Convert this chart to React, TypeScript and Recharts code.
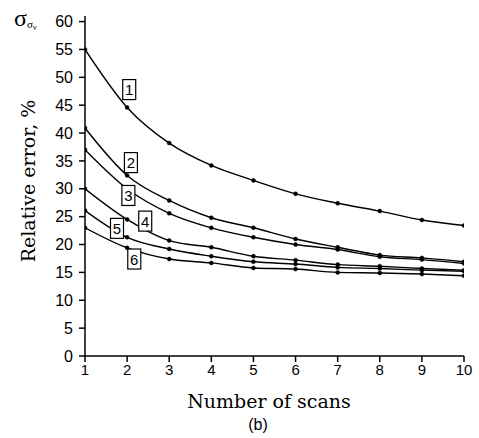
import React from 'react';
import { LineChart, Line, XAxis, YAxis, ReferenceDot } from 'recharts';

const scans = [1, 2, 3, 4, 5, 6, 7, 8, 9, 10];
const curve1 = [55, 44.6, 38.2, 34.2, 31.5, 29.1, 27.4, 26.0, 24.4, 23.4];
const curve2 = [40.9, 32.4, 27.9, 24.8, 23.0, 21.0, 19.5, 18.1, 17.6, 16.9];
const curve3 = [37.0, 30.0, 25.6, 23.0, 21.3, 20.0, 19.1, 17.8, 17.3, 16.6];
const curve4 = [30.0, 24.5, 20.7, 19.5, 17.9, 17.2, 16.4, 16.1, 15.7, 15.4];
const curve5 = [26.1, 21.3, 19.2, 17.9, 16.9, 16.5, 15.9, 15.7, 15.4, 15.2];
const curve6 = [23.0, 19.4, 17.4, 16.7, 15.8, 15.6, 15.0, 14.9, 14.7, 14.4];

const yTicks = [0, 5, 10, 15, 20, 25, 30, 35, 40, 45, 50, 55, 60];
const curveNames = ['1', '2', '3', '4', '5', '6'];
const labelX = [2.05, 2.09, 2.03, 2.43, 1.76, 2.17];
const labelY = [47.8, 34.7, 28.8, 24.2, 22.9, 17.4];

const series = [curve1, curve2, curve3, curve4, curve5, curve6];
const data = scans.map((s, i) => {
  const row: any = { x: s };
  series.forEach((arr, k) => {
    row['c' + (k + 1)] = arr[i];
  });
  return row;
});

const sans = 'Liberation Sans, Arial, sans-serif';
const serif = 'DejaVu Serif, serif';
const times = 'Liberation Serif, Times New Roman, serif';

const BoxLabel = (props: any) => {
  const { cx, cy, text } = props;
  return (
    <g>
      <rect x={cx - 6.5} y={cy - 10} width={13} height={20} fill="#fff" stroke="#000" strokeWidth={1.2} />
      <text x={cx} y={cy + 5.5} textAnchor="middle" fontFamily={sans} fontSize={15} fill="#000">
        {text}
      </text>
    </g>
  );
};

export default function App() {
  return (
    <div style={{ position: 'absolute', left: 0, top: 0, width: 479, height: 438, background: '#fff' }}>
      <LineChart width={479} height={438} data={data} margin={{ top: 16, right: 15, bottom: 52, left: 25 }}>
        <XAxis
          dataKey="x"
          type="number"
          domain={[1, 10]}
          ticks={scans}
          allowDataOverflow
          stroke="#000"
          strokeWidth={1.5}
          tickSize={6}
          height={30}
          tick={{ fill: '#000', fontFamily: sans, fontSize: 15 }}
        />
        <XAxis
          xAxisId="top"
          orientation="top"
          type="number"
          domain={[1, 10]}
          height={0}
          tick={false}
          tickLine={false}
          stroke="#000"
          strokeWidth={1.5}
        />
        <YAxis
          type="number"
          domain={[0, 61]}
          ticks={yTicks}
          allowDataOverflow
          width={60}
          stroke="#000"
          strokeWidth={1.5}
          tickSize={6}
          tickMargin={6}
          tick={{ fill: '#000', fontFamily: sans, fontSize: 16 }}
        />
        <YAxis
          yAxisId="right"
          orientation="right"
          width={0}
          tick={false}
          tickLine={false}
          stroke="#000"
          strokeWidth={1.5}
        />
        {curveNames.map((n) => (
          <Line
            key={n}
            type="monotone"
            dataKey={'c' + n}
            stroke="#000"
            strokeWidth={1.4}
            dot={{ r: 2, fill: '#000', stroke: '#000', strokeWidth: 0.5 }}
            isAnimationActive={false}
          />
        ))}
        {curveNames.map((n, i) => (
          <ReferenceDot
            key={'l' + n}
            x={labelX[i]}
            y={labelY[i]}
            r={0}
            ifOverflow="visible"
            shape={(p: any) => <BoxLabel {...p} text={n} />}
          />
        ))}
        <text x={35} y={181} transform="rotate(-90 35 181)" textAnchor="middle" fontFamily={serif} fontSize={19} fill="#000">
          Relative error, %
        </text>
        <text x={269} y={408} textAnchor="middle" fontFamily={serif} fontSize={19} fill="#000">
          Number of scans
        </text>
        <text x={258} y={430} textAnchor="middle" fontFamily={sans} fontSize={16} fill="#000">
          (b)
        </text>
        <text x={14} y={26} fontFamily={times} fill="#000">
          <tspan fontSize={24}>σ</tspan>
          <tspan fontSize={11} dy={2}>σ</tspan>
          <tspan fontSize={8} dy={2}>ν</tspan>
        </text>
      </LineChart>
    </div>
  );
}
